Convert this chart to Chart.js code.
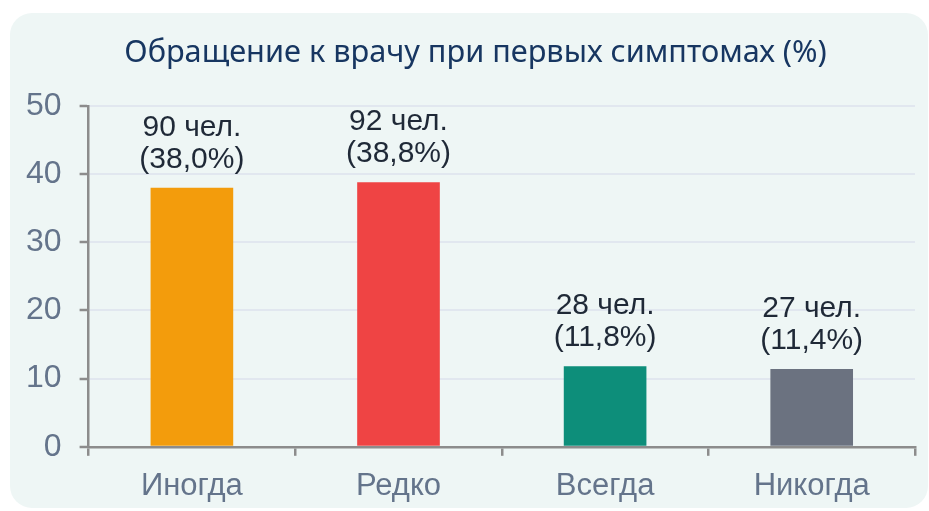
<!DOCTYPE html>
<html lang="ru">
<head>
<meta charset="utf-8">
<script src="https://cdn.jsdelivr.net/npm/chart.js@4.4.1/dist/chart.umd.min.js"></script>
<style>
  html, body { margin: 0; padding: 0; background: #ffffff; }
  #wrap { position: relative; width: 929px; height: 511px; overflow: hidden; }
  #panel {
    position: absolute; left: 10px; top: 13px; width: 918px; height: 495px;
    background: #eef6f5; border-radius: 22px;
  }
  #chart { position: absolute; left: 0; top: 0; }
</style>
</head>
<body>
<div id="wrap">
  <div id="panel"></div>
  <canvas id="chart" width="929" height="511"></canvas>
</div>
<script>
// Данные: обращение к врачу при первых симптомах
const categories = ['Иногда', 'Редко', 'Всегда', 'Никогда'];
const percentValues = [38.0, 38.8, 11.8, 11.4];
const peopleCounts = [90, 92, 28, 27];
const yTicks = [0, 10, 20, 30, 40, 50];

// Цвета столбцов
const barColors = ['#f39c0c', '#ef4444', '#0d8e7a', '#6b7280'];

const axisGray = '#8c8c8c';
const labelFont = "'Liberation Sans', Arial, sans-serif";

// Подписи над столбцами: "NN чел." и "(xx,x%)"
const barLabels = {
    id: 'barLabels',
    afterDatasetsDraw(chart) {
        const ctx = chart.ctx;
        const meta = chart.getDatasetMeta(0);
        ctx.save();
        ctx.font = `30px ${labelFont}`;
        ctx.fillStyle = '#1f2937';
        ctx.textAlign = 'center';
        ctx.textBaseline = 'alphabetic';
        meta.data.forEach((bar, i) => {
            const pct = percentValues[i].toFixed(1).replace('.', ',');
            ctx.fillText(`${peopleCounts[i]} чел.`, bar.x, bar.y - 52);
            ctx.fillText(`(${pct}%)`, bar.x, bar.y - 20);
        });
        ctx.restore();
    }
};

// Заголовок в оригинале немного смещён вправо
const titleShift = {
    id: 'titleShift',
    afterLayout(chart) {
        if (chart.titleBlock) {
            chart.titleBlock.left += 14;
            chart.titleBlock.right += 14;
        }
    }
};

const ctx = document.getElementById('chart').getContext('2d');
new Chart(ctx, {
    type: 'bar',
    data: {
        labels: categories,
        datasets: [{
            data: percentValues,
            backgroundColor: barColors,
            barPercentage: 0.4,
            categoryPercentage: 1
        }]
    },
    options: {
        responsive: false,
        animation: false,
        layout: { padding: { left: 8, right: 14, top: 0, bottom: -6 } },
        plugins: {
            legend: { display: false },
            tooltip: { enabled: false },
            title: {
                display: true,
                text: 'Обращение к врачу при первых симптомах (%)',
                color: '#173661',
                font: { family: "'Noto Sans', 'Open Sans', sans-serif", size: 30.7, weight: 'normal' },
                padding: { top: 35, bottom: 34 }
            }
        },
        scales: {
            x: {
                offset: true,
                grid: {
                    offset: true,
                    drawOnChartArea: false,
                    color: axisGray,
                    lineWidth: 2.5,
                    tickLength: 9
                },
                border: { color: axisGray, width: 2.5 },
                ticks: {
                    color: '#64748b',
                    font: { family: labelFont, size: 31 },
                    padding: 12
                }
            },
            y: {
                min: 0,
                max: 50,
                afterBuildTicks(scale) {
                    scale.ticks = yTicks.map(v => ({ value: v }));
                },
                grid: {
                    color: '#e1e7ef',
                    lineWidth: 2,
                    tickColor: axisGray,
                    tickWidth: 2.5,
                    tickLength: 9
                },
                border: { color: axisGray, width: 2.5 },
                ticks: {
                    color: '#64748b',
                    font: { family: labelFont, size: 32 },
                    padding: 18
                }
            }
        }
    },
    plugins: [barLabels, titleShift]
});
</script>
</body>
</html>
